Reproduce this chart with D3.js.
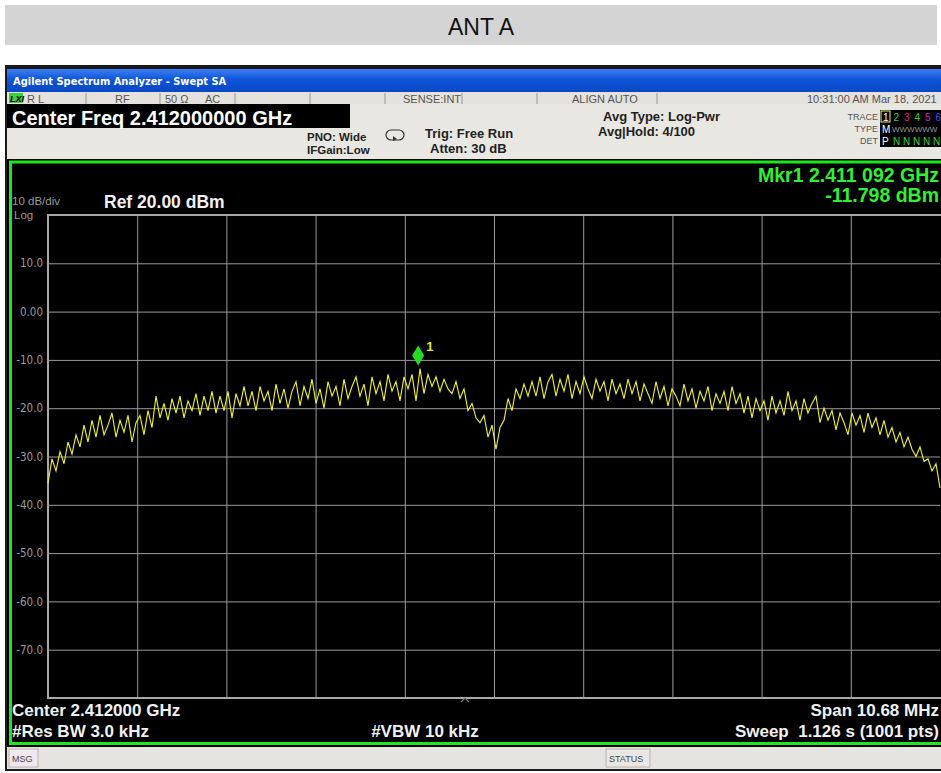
<!DOCTYPE html>
<html>
<head>
<meta charset="utf-8">
<script src="https://cdn.jsdelivr.net/npm/d3@7"></script>
<style>
  body { margin: 0; background: #fff; }
  text { font-family: "Liberation Sans", Arial, sans-serif; }
</style>
</head>
<body>
<div id="vis"></div>
<script>

// sweep settings (MHz)
var centerMHz = 2412.000;
var spanMHz = 10.68;
var sweepPts = 224;

// y grid: ref level 20 dBm, 10 dB/div
var yTickValues = [10, 0, -10, -20, -30, -40, -50, -60, -70];
var yTickLabels = ['10.0', '0.00', '-10.0', '-20.0', '-30.0', '-40.0', '-50.0', '-60.0', '-70.0'];

// trace, left to right (dBm)
var traceDbm = [
  -35.5, -30.5, -33, -29, -31.5, -27, -29.5, -25.5, -28, -23.5,
  -27, -22.5, -26, -21.5, -25.5, -23.5, -21, -26, -22.5, -25,
  -21.5, -27, -23, -21.5, -25.5, -20.5, -24,
  -17.5, -22, -19, -22.5, -18, -21, -17.5, -22, -18.5, -20.5,
  -17, -21.5, -17.5, -20.5, -16.5, -21, -17.5, -20.5, -16.5, -22,
  -17, -19.5, -15.5, -19.5, -16.5, -20.5, -15.5, -18.5, -16.5, -20.5,
  -15, -19, -16, -20,
  -16.5, -14.5, -19.5, -15.5, -18, -14, -19, -16, -20, -14.5,
  -17.5, -15.5, -19.5, -14, -18, -15.5, -13.5, -17.5, -15, -19.5,
  -13.5, -17, -14.5, -18.5, -13, -16.5, -14.5, -18.5, -13.5, -16,
  -13, -18.5,
  -11.8,
  -17, -13, -15.5, -13.5, -16.5, -14, -16, -17, -14.5, -18, -16,
  -20.5, -19, -22, -23, -21.5, -26, -23.5, -28.5, -24, -22.5,
  -18, -20.5, -16, -18, -15, -17.5,
  -14.5, -17.5, -13.5, -18, -14.5, -13, -17.5, -14, -16.5, -13,
  -18, -14.5, -17, -13.5, -16, -18, -14, -16.5, -14.5, -18.5,
  -14, -17, -15, -18, -14, -17, -14.5, -18.5, -15, -17,
  -19, -14.5, -18, -15.5, -19.5, -16, -17.5,
  -19.5, -15, -18.5, -16, -20, -16.5, -18.5, -15.5, -20.5, -17,
  -19, -16.5, -20.5, -15.5, -19, -17, -21, -17.5, -22, -18,
  -20.5, -18.5, -22.5, -17.5, -21, -18.5, -21.5, -16.5, -20.5, -18.5,
  -22.5, -18, -21, -19, -17.5,
  -23, -20, -22.5, -20.5, -24.5, -21, -23, -25.5, -21, -23.5,
  -21.5, -25, -21, -24, -22, -25.5, -22.5, -26, -24, -27,
  -25, -28, -26, -28.5, -30, -28, -31, -30.5, -33, -31.5,
  -36.5
];

var marker = { freq: 2411.092, dbm: -11.798 };

var W = 941, H = 773;
var plot = { left: 48, right: 940, top: 215, bottom: 698 };

var svg = d3.select('#vis').append('svg')
  .attr('width', W).attr('height', H);

// ---- caption bar ----
svg.append('rect').attr('x', 5).attr('y', 5).attr('width', 932).attr('height', 40).attr('fill', '#d4d4d4');
svg.append('text').attr('x', 481).attr('y', 35).attr('text-anchor', 'middle')
  .attr('font-size', 23).attr('fill', '#111').style('font-family', '"Liberation Sans Narrow", "Liberation Sans", Arial')
  .text('ANT A');

// ---- analyzer window chrome ----
svg.append('rect').attr('x', 5).attr('y', 65).attr('width', 940).attr('height', 706).attr('fill', '#1a1a1a');

var grad = svg.append('defs').append('linearGradient').attr('id', 'tbar').attr('x1', 0).attr('y1', 0).attr('x2', 0).attr('y2', 1);
grad.append('stop').attr('offset', '0%').attr('stop-color', '#3d7ff2');
grad.append('stop').attr('offset', '45%').attr('stop-color', '#0f55d8');
grad.append('stop').attr('offset', '100%').attr('stop-color', '#0a47c4');
svg.append('rect').attr('x', 7).attr('y', 69).attr('width', 936).attr('height', 23).attr('fill', 'url(#tbar)');
svg.append('text').attr('x', 13).attr('y', 85).attr('font-size', 11).attr('font-weight', 'bold').attr('fill', '#fff')
  .style('font-family', '"DejaVu Sans Condensed", "DejaVu Sans", sans-serif')
  .text('Agilent Spectrum Analyzer - Swept SA');

// status row
svg.append('rect').attr('x', 7).attr('y', 92).attr('width', 936).attr('height', 12).attr('fill', '#e4e2dc');
svg.append('rect').attr('x', 9).attr('y', 93).attr('width', 14).attr('height', 10).attr('fill', '#3ad13a');
svg.append('text').attr('x', 10).attr('y', 102).attr('font-size', 9).attr('font-weight', 'bold').attr('font-style', 'italic').attr('fill', '#000').text('LXI');
var sepX = [86, 160, 235, 310, 385, 462, 537, 657];
svg.selectAll('.sep').data(sepX).enter().append('line')
  .attr('x1', function (d) { return d; }).attr('x2', function (d) { return d; })
  .attr('y1', 93).attr('y2', 104).attr('stroke', '#9a9890');
var statusTexts = [
  { x: 27, t: 'R L' }, { x: 115, t: 'RF' }, { x: 165, t: '50 Ω' }, { x: 205, t: 'AC' },
  { x: 403, t: 'SENSE:INT' }, { x: 572, t: 'ALIGN AUTO' }, { x: 807, t: '10:31:00 AM Mar 18, 2021' }
];
svg.selectAll('.st').data(statusTexts).enter().append('text')
  .attr('x', function (d) { return d.x; }).attr('y', 103)
  .attr('font-size', 11).attr('fill', '#555')
  .text(function (d) { return d.t; });

// settings panel
svg.append('rect').attr('x', 7).attr('y', 104).attr('width', 936).attr('height', 55).attr('fill', '#e9e7e1');
svg.append('rect').attr('x', 7).attr('y', 104).attr('width', 343).attr('height', 24).attr('fill', '#000');
svg.append('text').attr('x', 12).attr('y', 125).attr('font-size', 20).attr('font-weight', 'bold').attr('fill', '#fff')
  .text('Center Freq 2.412000000 GHz');

var panelTexts = [
  { x: 307, y: 141, s: 11.5, t: 'PNO: Wide' },
  { x: 307, y: 154, s: 11.5, t: 'IFGain:Low' },
  { x: 425, y: 138, s: 13, t: 'Trig: Free Run' },
  { x: 430, y: 153, s: 13, t: 'Atten: 30 dB' },
  { x: 603, y: 121, s: 13, t: 'Avg Type: Log-Pwr' },
  { x: 598, y: 136, s: 13, t: 'Avg|Hold: 4/100' }
];
svg.selectAll('.pt').data(panelTexts).enter().append('text')
  .attr('x', function (d) { return d.x; }).attr('y', function (d) { return d.y; })
  .attr('font-size', function (d) { return d.s; }).attr('font-weight', 'bold').attr('fill', '#222')
  .text(function (d) { return d.t; });
// trigger icon
svg.append('rect').attr('x', 386).attr('y', 130).attr('width', 18).attr('height', 10).attr('rx', 5)
  .attr('fill', 'none').attr('stroke', '#333').attr('stroke-width', 1.2);
svg.append('path').attr('d', 'M393,136 l4,3 l-4,2 z').attr('fill', '#333');

// trace / type / det block
svg.append('rect').attr('x', 880).attr('y', 110).attr('width', 63).attr('height', 37).attr('fill', '#000');
[['TRACE', 120], ['TYPE', 132], ['DET', 144]].forEach(function (r) {
  svg.append('text').attr('x', 878).attr('y', r[1]).attr('text-anchor', 'end')
    .attr('font-size', 9).attr('fill', '#555').text(r[0]);
});
svg.append('rect').attr('x', 881).attr('y', 111).attr('width', 9).attr('height', 11).attr('fill', 'none').attr('stroke', '#e8e880');
var traceNums = [['1', '#fff'], ['2', '#3dd43d'], ['3', '#e0237a'], ['4', '#3dd43d'], ['5', '#c030c0'], ['6', '#4050ff']];
traceNums.forEach(function (n, i) {
  svg.append('text').attr('x', 883 + i * 10.5).attr('y', 120.5).attr('font-size', 10).attr('fill', n[1]).text(n[0]);
});
svg.append('text').attr('x', 882).attr('y', 132.5).attr('font-size', 10).attr('fill', '#fff').text('M');
svg.append('text').attr('x', 892).attr('y', 132).attr('font-size', 8).attr('fill', '#999').text('WWWWWW');
svg.append('text').attr('x', 882).attr('y', 144.5).attr('font-size', 10).attr('fill', '#fff').text('P');
svg.append('text').attr('x', 893).attr('y', 144.5).attr('font-size', 10).attr('fill', '#3dd43d').text('N N N N N');

// ---- measurement screen ----
svg.append('rect').attr('x', 7).attr('y', 159).attr('width', 936).attr('height', 588).attr('fill', '#000');
svg.append('rect').attr('x', 10.5).attr('y', 162).attr('width', 940).attr('height', 581.5)
  .attr('fill', 'none').attr('stroke', '#1ee61e').attr('stroke-width', 3);

var fStart = centerMHz - spanMHz / 2, fStop = centerMHz + spanMHz / 2;
var x = d3.scaleLinear().domain([fStart, fStop]).range([plot.left, plot.right]);
var y = d3.scaleLinear().domain([-80, 20]).range([plot.bottom, plot.top]);

// horizontal grid + labels
var yAxis = d3.axisLeft(y)
  .tickValues(yTickValues)
  .tickSize(-(plot.right - plot.left))
  .tickPadding(5)
  .tickFormat(function (d, i) { return yTickLabels[i]; });
var gy = svg.append('g').attr('transform', 'translate(' + plot.left + ',0)').call(yAxis);
gy.select('.domain').remove();
gy.selectAll('line').attr('stroke', '#9a9a9a').attr('stroke-width', 1);
gy.selectAll('text').attr('fill', '#9a9a9a').attr('font-size', 11.5)
  .style('font-family', '"DejaVu Sans Condensed", "Liberation Sans", sans-serif');

// vertical grid, one line per division
var xDivs = d3.range(1, 10).map(function (i) { return fStart + i * spanMHz / 10; });
var xAxis = d3.axisBottom(x).tickValues(xDivs).tickSize(-(plot.bottom - plot.top)).tickFormat('');
var gx = svg.append('g').attr('transform', 'translate(0,' + plot.bottom + ')').call(xAxis);
gx.select('.domain').remove();
gx.selectAll('line').attr('stroke', '#9a9a9a').attr('stroke-width', 1);

// graticule frame
svg.append('rect').attr('x', plot.left).attr('y', plot.top)
  .attr('width', plot.right - plot.left + 4).attr('height', plot.bottom - plot.top)
  .attr('fill', 'none').attr('stroke', '#a8a8a8').attr('stroke-width', 2);

// trace
var step = spanMHz / (sweepPts - 1);
var pts = traceDbm.map(function (v, i) { return { f: fStart + i * step, v: v }; });
var line = d3.line().x(function (d) { return x(d.f); }).y(function (d) { return y(d.v); });
svg.append('path').datum(pts).attr('d', line)
  .attr('fill', 'none').attr('stroke', '#f4f428').attr('stroke-width', 1.1);

// marker
var mx = x(marker.freq), my = y(marker.dbm);
svg.append('path')
  .attr('d', 'M' + mx + ',' + (my - 23) + ' l6,10 l-6,10 l-6,-10 z')
  .attr('fill', '#22dd22');
svg.append('text').attr('x', mx + 8).attr('y', my - 18).attr('font-size', 13).attr('font-weight', 'bold')
  .attr('fill', '#e6e62a').text('1');

// annotations
svg.append('text').attr('x', 12).attr('y', 205).attr('font-size', 11.5).attr('fill', '#9a9a9a').text('10 dB/div');
svg.append('text').attr('x', 14).attr('y', 219).attr('font-size', 11.5).attr('fill', '#9a9a9a').text('Log');
svg.append('text').attr('x', 104).attr('y', 208).attr('font-size', 17.5).attr('font-weight', 'bold').attr('fill', '#f0f0f0').text('Ref 20.00 dBm');
svg.append('text').attr('x', 939).attr('y', 182).attr('text-anchor', 'end').attr('font-size', 19.5).attr('font-weight', 'bold')
  .attr('fill', '#33ee33').text('Mkr1 2.411 092 GHz');
svg.append('text').attr('x', 939).attr('y', 202).attr('text-anchor', 'end').attr('font-size', 19.5).attr('font-weight', 'bold')
  .attr('fill', '#33ee33').text('-11.798 dBm');

svg.append('path').attr('d', 'M461,702 l4,-4 l4,4').attr('fill', 'none').attr('stroke', '#6a8a6a').attr('stroke-width', 1.2);

var bottomTexts = [
  { x: 12, y: 716, a: 'start', t: 'Center 2.412000 GHz' },
  { x: 12, y: 737, a: 'start', t: '#Res BW 3.0 kHz' },
  { x: 425, y: 737, a: 'middle', t: '#VBW 10 kHz' },
  { x: 939, y: 716, a: 'end', t: 'Span 10.68 MHz' },
  { x: 939, y: 737, a: 'end', t: 'Sweep  1.126 s (1001 pts)' }
];
svg.selectAll('.bt').data(bottomTexts).enter().append('text')
  .attr('x', function (d) { return d.x; }).attr('y', function (d) { return d.y; })
  .attr('text-anchor', function (d) { return d.a; })
  .attr('font-size', 17).attr('font-weight', 'bold').attr('fill', '#f0f0f0')
  .style('white-space', 'pre')
  .text(function (d) { return d.t; });

// message bar
svg.append('rect').attr('x', 7).attr('y', 747).attr('width', 936).attr('height', 22).attr('fill', '#e6e4e0');
svg.append('rect').attr('x', 9).attr('y', 749).attr('width', 29).attr('height', 18).attr('fill', '#efe8f0').attr('stroke', '#b8b4ae');
svg.append('text').attr('x', 12).attr('y', 762).attr('font-size', 9).attr('fill', '#444').text('MSG');
svg.append('rect').attr('x', 606).attr('y', 749).attr('width', 44).attr('height', 18).attr('fill', '#e9e7e3').attr('stroke', '#b8b4ae');
svg.append('text').attr('x', 609).attr('y', 762).attr('font-size', 9).attr('fill', '#444').text('STATUS');

</script>
</body>
</html>
